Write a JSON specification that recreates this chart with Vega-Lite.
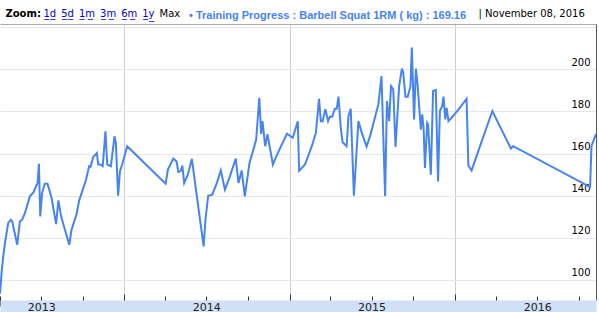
{
  "$schema": "https://vega.github.io/schema/vega-lite/v6.json",
  "width": 596,
  "height": 276,
  "autosize": {"type": "none"},
  "padding": {"left": 0, "top": 24, "right": 3, "bottom": 12},
  "background": "white",
  "view": {"stroke": null},
  "title": {
    "text": "• Training Progress : Barbell Squat 1RM ( kg) : 169.16",
    "anchor": "start", "frame": "group", "dx": 189, "offset": -20.9,
    "baseline": "alphabetic", "font": "Liberation Sans", "fontSize": 11,
    "fontWeight": "bold", "color": "#4684EE"
  },
  "data": {"values": [
    {"date": "2013-04-01", "kg": 93.5},
    {"date": "2013-04-05", "kg": 104.8},
    {"date": "2013-04-08", "kg": 111},
    {"date": "2013-04-12", "kg": 117.5},
    {"date": "2013-04-19", "kg": 127},
    {"date": "2013-04-25", "kg": 128.6},
    {"date": "2013-04-28", "kg": 127.8},
    {"date": "2013-05-09", "kg": 116.7},
    {"date": "2013-05-15", "kg": 127.8},
    {"date": "2013-05-20", "kg": 128.6},
    {"date": "2013-05-26", "kg": 131.7},
    {"date": "2013-06-06", "kg": 139.7},
    {"date": "2013-06-14", "kg": 141.6},
    {"date": "2013-06-21", "kg": 145.2},
    {"date": "2013-06-23", "kg": 145.7},
    {"date": "2013-06-26", "kg": 155.2},
    {"date": "2013-06-29", "kg": 130.2},
    {"date": "2013-07-03", "kg": 141.3},
    {"date": "2013-07-09", "kg": 145.7},
    {"date": "2013-07-15", "kg": 145.7},
    {"date": "2013-07-24", "kg": 138.9},
    {"date": "2013-08-03", "kg": 126.5},
    {"date": "2013-08-08", "kg": 137.8},
    {"date": "2013-08-14", "kg": 130.2},
    {"date": "2013-09-01", "kg": 116.7},
    {"date": "2013-09-06", "kg": 123.8},
    {"date": "2013-09-12", "kg": 127.8},
    {"date": "2013-09-17", "kg": 131},
    {"date": "2013-09-23", "kg": 137.8},
    {"date": "2013-10-01", "kg": 142.9},
    {"date": "2013-10-08", "kg": 147.6},
    {"date": "2013-10-15", "kg": 154},
    {"date": "2013-10-18", "kg": 153.7},
    {"date": "2013-10-24", "kg": 158.4},
    {"date": "2013-11-01", "kg": 160.3},
    {"date": "2013-11-04", "kg": 154.8},
    {"date": "2013-11-09", "kg": 154.8},
    {"date": "2013-11-14", "kg": 154},
    {"date": "2013-11-20", "kg": 170.6},
    {"date": "2013-11-24", "kg": 154.8},
    {"date": "2013-12-02", "kg": 154},
    {"date": "2013-12-10", "kg": 168.2},
    {"date": "2013-12-13", "kg": 165.1},
    {"date": "2013-12-18", "kg": 140},
    {"date": "2013-12-22", "kg": 151.6},
    {"date": "2013-12-27", "kg": 154.8},
    {"date": "2014-01-07", "kg": 163.5},
    {"date": "2014-04-02", "kg": 145.7},
    {"date": "2014-04-07", "kg": 152.4},
    {"date": "2014-04-19", "kg": 157.6},
    {"date": "2014-04-26", "kg": 156.3},
    {"date": "2014-04-30", "kg": 151.3},
    {"date": "2014-05-05", "kg": 151.6},
    {"date": "2014-05-09", "kg": 154.3},
    {"date": "2014-05-13", "kg": 146},
    {"date": "2014-05-21", "kg": 150},
    {"date": "2014-05-30", "kg": 157.5},
    {"date": "2014-06-10", "kg": 139.7},
    {"date": "2014-06-25", "kg": 115.9},
    {"date": "2014-06-29", "kg": 128.6},
    {"date": "2014-07-05", "kg": 140},
    {"date": "2014-07-14", "kg": 140.5},
    {"date": "2014-07-24", "kg": 146},
    {"date": "2014-08-02", "kg": 152},
    {"date": "2014-08-11", "kg": 142.9},
    {"date": "2014-08-22", "kg": 149.2},
    {"date": "2014-09-04", "kg": 157.6},
    {"date": "2014-09-10", "kg": 146},
    {"date": "2014-09-17", "kg": 152},
    {"date": "2014-09-24", "kg": 139.7},
    {"date": "2014-10-04", "kg": 155.2},
    {"date": "2014-10-19", "kg": 166.5},
    {"date": "2014-10-26", "kg": 186.5},
    {"date": "2014-10-30", "kg": 169.3},
    {"date": "2014-11-02", "kg": 175.4},
    {"date": "2014-11-08", "kg": 163.5},
    {"date": "2014-11-13", "kg": 169.2},
    {"date": "2014-11-25", "kg": 154.8},
    {"date": "2014-12-01", "kg": 158},
    {"date": "2014-12-26", "kg": 169.4},
    {"date": "2015-01-08", "kg": 167.5},
    {"date": "2015-01-19", "kg": 175.3},
    {"date": "2015-01-22", "kg": 151.8},
    {"date": "2015-02-04", "kg": 154.8},
    {"date": "2015-02-19", "kg": 163.5},
    {"date": "2015-02-28", "kg": 169.8},
    {"date": "2015-03-07", "kg": 186},
    {"date": "2015-03-11", "kg": 175.4},
    {"date": "2015-03-15", "kg": 175.4},
    {"date": "2015-03-21", "kg": 181},
    {"date": "2015-03-27", "kg": 175.4},
    {"date": "2015-03-31", "kg": 177.5},
    {"date": "2015-04-05", "kg": 177.5},
    {"date": "2015-04-11", "kg": 181.3},
    {"date": "2015-04-15", "kg": 181.3},
    {"date": "2015-04-19", "kg": 187},
    {"date": "2015-04-24", "kg": 172.2},
    {"date": "2015-04-28", "kg": 165.4},
    {"date": "2015-05-07", "kg": 163.5},
    {"date": "2015-05-11", "kg": 177.8},
    {"date": "2015-05-16", "kg": 181.3},
    {"date": "2015-05-23", "kg": 140},
    {"date": "2015-06-02", "kg": 175.4},
    {"date": "2015-06-09", "kg": 170.2},
    {"date": "2015-06-20", "kg": 163.3},
    {"date": "2015-06-28", "kg": 168.5},
    {"date": "2015-07-16", "kg": 183.3},
    {"date": "2015-07-23", "kg": 196.8},
    {"date": "2015-07-31", "kg": 139.7},
    {"date": "2015-08-04", "kg": 184.9},
    {"date": "2015-08-09", "kg": 175.4},
    {"date": "2015-08-13", "kg": 192},
    {"date": "2015-08-18", "kg": 190.5},
    {"date": "2015-08-23", "kg": 163.2},
    {"date": "2015-08-31", "kg": 192},
    {"date": "2015-09-06", "kg": 200.3},
    {"date": "2015-09-09", "kg": 198.4},
    {"date": "2015-09-14", "kg": 187},
    {"date": "2015-09-19", "kg": 187},
    {"date": "2015-09-25", "kg": 192},
    {"date": "2015-09-28", "kg": 210.3},
    {"date": "2015-10-03", "kg": 176.2},
    {"date": "2015-10-07", "kg": 200.3},
    {"date": "2015-10-11", "kg": 192},
    {"date": "2015-10-18", "kg": 171.4},
    {"date": "2015-10-21", "kg": 178.6},
    {"date": "2015-10-24", "kg": 172.2},
    {"date": "2015-10-27", "kg": 153.2},
    {"date": "2015-11-01", "kg": 174.6},
    {"date": "2015-11-03", "kg": 173.8},
    {"date": "2015-11-09", "kg": 150},
    {"date": "2015-11-14", "kg": 189.7},
    {"date": "2015-11-20", "kg": 190.2},
    {"date": "2015-11-25", "kg": 146.8},
    {"date": "2015-11-29", "kg": 180.2},
    {"date": "2015-12-04", "kg": 182.5},
    {"date": "2015-12-07", "kg": 187},
    {"date": "2015-12-11", "kg": 176.2},
    {"date": "2015-12-14", "kg": 181.7},
    {"date": "2015-12-18", "kg": 175.4},
    {"date": "2015-12-25", "kg": 177},
    {"date": "2016-01-12", "kg": 181.7},
    {"date": "2016-01-27", "kg": 186},
    {"date": "2016-01-31", "kg": 154.3},
    {"date": "2016-02-07", "kg": 152},
    {"date": "2016-03-24", "kg": 180.2},
    {"date": "2016-05-04", "kg": 162.4},
    {"date": "2016-05-09", "kg": 163.5},
    {"date": "2016-10-22", "kg": 144.6},
    {"date": "2016-10-26", "kg": 144.4},
    {"date": "2016-10-29", "kg": 163.5},
    {"date": "2016-11-06", "kg": 168.2},
    {"date": "2016-11-08", "kg": 169.16}
  ]},
  "layer": [
    {
      "mark": {"type": "line", "color": "#4684EE", "strokeWidth": 2, "clip": true},
      "encoding": {
        "x": {
          "field": "date", "type": "temporal",
          "scale": {"type": "utc", "domain": [{"year": 2013, "month": 4, "date": 1, "utc": true}, {"year": 2016, "month": 11, "date": 8, "utc": true}]},
          "axis": {
            "orient": "bottom",
            "values": [
              {"year": 2013, "month": 4, "date": 1, "utc": true},
              {"year": 2013, "month": 7, "date": 1, "utc": true},
              {"year": 2013, "month": 10, "date": 1, "utc": true},
              {"year": 2014, "month": 1, "date": 1, "utc": true},
              {"year": 2014, "month": 4, "date": 1, "utc": true},
              {"year": 2014, "month": 7, "date": 1, "utc": true},
              {"year": 2014, "month": 10, "date": 1, "utc": true},
              {"year": 2015, "month": 1, "date": 1, "utc": true},
              {"year": 2015, "month": 4, "date": 1, "utc": true},
              {"year": 2015, "month": 7, "date": 1, "utc": true},
              {"year": 2015, "month": 10, "date": 1, "utc": true},
              {"year": 2016, "month": 1, "date": 1, "utc": true},
              {"year": 2016, "month": 4, "date": 1, "utc": true},
              {"year": 2016, "month": 7, "date": 1, "utc": true},
              {"year": 2016, "month": 10, "date": 1, "utc": true}
            ],
            "labels": false, "ticks": true,
            "domain": true, "domainColor": "#d0e0f7", "domainWidth": 12,
            "tickSize": {"condition": {"test": "utcmonth(datum.value) == 0", "value": -12}, "value": -10},
            "tickColor": "#333333", "tickWidth": 1,
            "grid": true, "gridColor": "#cccccc",
            "gridOpacity": {"condition": {"test": "utcmonth(datum.value) == 0", "value": 1}, "value": 0},
            "offset": 6,
            "title": "Zoom:", "titleX": 5, "titleY": -289.3, "titleAlign": "left", "titleAngle": 0,
            "titleBaseline": "alphabetic", "titleFont": "DejaVu Sans", "titleFontSize": 10,
            "titleFontWeight": "bold", "titleColor": "#000000"
          }
        },
        "y": {
          "field": "kg", "type": "quantitative",
          "scale": {"domain": [90.5, 221.5], "nice": false, "zero": false},
          "axis": {
            "orient": "right",
            "values": [100, 120, 140, 160, 180, 200, 220, 221.5],
            "labelExpr": "datum.value > 201 ? '' : datum.label",
            "labelAlign": "right", "labelPadding": -6, "labelBaseline": "alphabetic", "labelOffset": -4,
            "labelFont": "DejaVu Sans", "labelFontSize": 10, "labelColor": "#000000",
            "labelOverlap": false, "labelBound": false, "labelFlush": false,
            "ticks": false, "tickSize": 0,
            "domain": true, "domainColor": "#555555", "domainWidth": 1,
            "grid": true, "gridWidth": 1,
            "gridColor": {"condition": {"test": "datum.value > 221", "value": "#aaaaaa"}, "value": "#e6e6f3"},
            "title": "| November 08, 2016", "titleX": -118, "titleY": -7.3, "titleAngle": 0,
            "titleAlign": "left", "titleBaseline": "alphabetic", "titleFont": "DejaVu Sans",
            "titleFontSize": 10, "titleFontWeight": "normal", "titleColor": "#000000"
          }
        }
      }
    },
    {
      "mark": {"type": "point", "opacity": 0},
      "encoding": {
        "x": {
          "field": "date", "type": "temporal",
          "axis": {
            "orient": "bottom", "zindex": 1,
            "values": [
              {"year": 2013, "month": 7, "date": 1, "utc": true},
              {"year": 2014, "month": 7, "date": 1, "utc": true},
              {"year": 2015, "month": 7, "date": 1, "utc": true},
              {"year": 2016, "month": 7, "date": 1, "utc": true}
            ],
            "format": "%Y", "ticks": false, "tickSize": 0, "grid": false, "domain": false,
            "offset": 6, "labelPadding": 1, "labelBaseline": "middle",
            "labelFont": "DejaVu Sans", "labelFontSize": 11, "labelColor": "#222222",
            "labelFlush": false, "labelOverlap": false, "labelBound": false,
            "title": "1\u0332d\u0332\u20025\u0332d\u0332\u20021\u0332m\u0332\u20023\u0332m\u0332\u20026\u0332m\u0332\u20021\u0332y\u0332",
            "titleX": 43, "titleY": -289.3, "titleAlign": "left", "titleAngle": 0,
            "titleBaseline": "alphabetic", "titleFont": "DejaVu Sans", "titleFontSize": 10,
            "titleFontWeight": "normal", "titleColor": "#0000cc"
          }
        },
        "y": {
          "field": "kg", "type": "quantitative",
          "axis": {
            "orient": "left", "domain": false, "labels": false, "ticks": false, "grid": false,
            "title": "Max", "titleX": 159, "titleY": -7.3, "titleAngle": 0,
            "titleAlign": "left", "titleBaseline": "alphabetic", "titleFont": "DejaVu Sans",
            "titleFontSize": 10, "titleFontWeight": "normal", "titleColor": "#000000"
          }
        }
      }
    }
  ],
  "resolve": {"axis": {"x": "independent", "y": "independent"}}
}
